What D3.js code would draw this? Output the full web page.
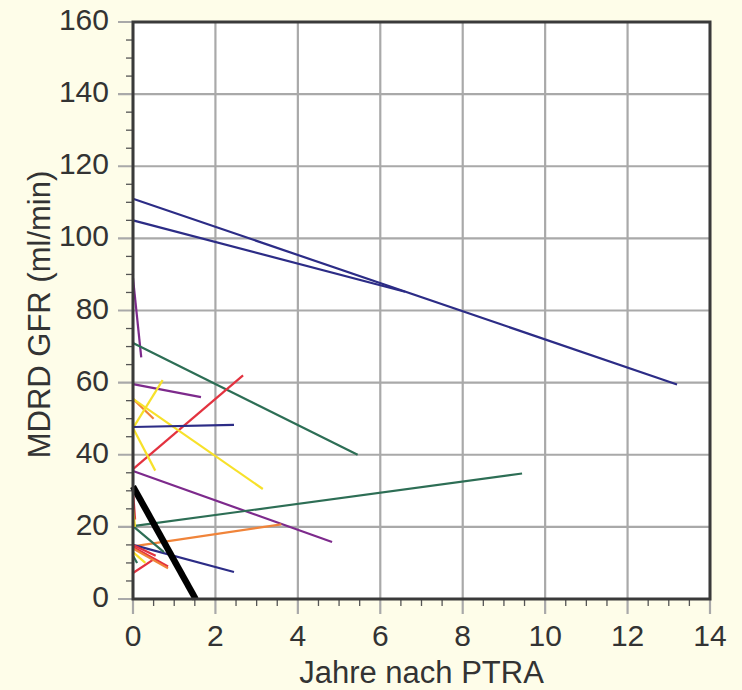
<!DOCTYPE html>
<html>
<head>
<meta charset="utf-8">
<script src="https://cdn.jsdelivr.net/npm/d3@7/dist/d3.min.js"></script>
<style>
  html, body { margin: 0; padding: 0; background: #fefde9; }
  svg { display: block; }
  text { font-family: "Liberation Sans", Arial, Helvetica, sans-serif; fill: #333; }
</style>
</head>
<body>
<svg id="chart" width="742" height="690"></svg>
<script>
// Individual GFR courses: value at PTRA (year 0) and the last follow-up value
const startGFR = [111, 105, 89, 71, 59.6, 36, 55.5, 55.5, 47.4, 47.4, 47.7, 35.5, 20.2, 14.6, 15, 20.2, 14.4, 7.2, 14, 30, 25, 12, 13, 15];
const endYears = [13.2, 6.6, 0.2, 5.45, 1.65, 2.67, 0.5, 3.15, 0.72, 0.54, 2.45, 4.83, 9.44, 3.6, 2.45, 0.75, 0.85, 0.5, 0.85, 0.05, 0.05, 0.1, 0.3, 0.55];
const endGFR = [59.5, 85.2, 67, 40, 56, 62, 50, 30.5, 60.7, 35.6, 48.3, 15.8, 34.8, 20.7, 7.5, 13, 9, 11, 8.5, 22, 20, 10, 10, 12];
const group = ["blau", "blau", "violett", "gruen", "violett", "rot", "orange", "gelb", "gelb", "gelb", "blau", "violett", "gruen", "orange", "blau", "gruen", "rot", "rot", "orange", "rot", "gelb", "gruen", "gelb", "rot"];

// Mean course (thick black line)
const meanStart = 31.2;
const meanEndYear = 1.52;
const meanEnd = 0;

const xTicks = [0, 2, 4, 6, 8, 10, 12, 14];
const yTicks = [0, 20, 40, 60, 80, 100, 120, 140, 160];
const xLabel = "Jahre nach PTRA";
const yLabel = "MDRD GFR (ml/min)";

const colour = d3.scaleOrdinal()
  .domain(["blau", "violett", "gruen", "rot", "orange", "gelb"])
  .range(["#2c2c86", "#7d2a8c", "#2d6e55", "#e3323f", "#f0843a", "#f7e12a"]);

const svg = d3.select("#chart");
const plotL = 133, plotR = 710, plotT = 22, plotB = 599;

const x = d3.scaleLinear().domain([0, 14]).range([plotL, plotR]);
const y = d3.scaleLinear().domain([0, 160]).range([plotB, plotT]);

// plot area
svg.append("rect")
  .attr("x", plotL).attr("y", plotT)
  .attr("width", plotR - plotL).attr("height", plotB - plotT)
  .attr("fill", "#ffffff");

// grid lines, extending past the frame as major ticks
const grid = svg.append("g").attr("stroke", "#a9a9a9").attr("stroke-width", 2.2);
grid.selectAll(".gx").data(xTicks).join("line")
  .attr("x1", d => x(d)).attr("x2", d => x(d))
  .attr("y1", plotT).attr("y2", plotB + 15);
grid.selectAll(".gy").data(yTicks).join("line")
  .attr("y1", d => y(d)).attr("y2", d => y(d))
  .attr("x1", plotL - 15).attr("x2", plotR);

// minor ticks
const minorX = d3.range(0, 14.01, 0.5).filter(v => v % 2 !== 0);
const minorY = d3.range(0, 160.01, 5).filter(v => v % 20 !== 0);
const minor = svg.append("g").attr("stroke", "#555").attr("stroke-width", 1.3);
minor.selectAll(".mx").data(minorX).join("line")
  .attr("x1", d => x(d)).attr("x2", d => x(d))
  .attr("y1", plotB).attr("y2", plotB + 7);
minor.selectAll(".my").data(minorY).join("line")
  .attr("y1", d => y(d)).attr("y2", d => y(d))
  .attr("x1", plotL - 7).attr("x2", plotL);

// data segments
const rows = startGFR.map((s, i) => ({ s, t: endYears[i], e: endGFR[i], g: group[i] }));
svg.append("g").selectAll("line").data(rows).join("line")
  .attr("x1", x(0)).attr("y1", d => y(d.s))
  .attr("x2", d => x(d.t)).attr("y2", d => y(d.e))
  .attr("stroke", d => colour(d.g))
  .attr("stroke-width", 2.2)
  .attr("fill", "none");

svg.append("line")
  .attr("x1", x(0)).attr("y1", y(meanStart))
  .attr("x2", x(meanEndYear)).attr("y2", y(meanEnd))
  .attr("stroke", "#000").attr("stroke-width", 6.5);

// frame
svg.append("rect")
  .attr("x", plotL).attr("y", plotT)
  .attr("width", plotR - plotL).attr("height", plotB - plotT)
  .attr("fill", "none").attr("stroke", "#3a3a3a").attr("stroke-width", 3);

// tick labels
svg.append("g").selectAll("text").data(yTicks).join("text")
  .attr("x", 109).attr("y", d => y(d) + 8)
  .attr("text-anchor", "end")
  .attr("font-size", 30)
  .text(d => d);
svg.append("g").selectAll("text").data(xTicks).join("text")
  .attr("x", d => x(d)).attr("y", 646)
  .attr("text-anchor", "middle")
  .attr("font-size", 30)
  .text(d => d);

// axis titles
svg.append("text")
  .attr("x", (plotL + plotR) / 2).attr("y", 683)
  .attr("text-anchor", "middle")
  .attr("font-size", 31)
  .text(xLabel);
svg.append("text")
  .attr("transform", "translate(50," + ((plotT + plotB) / 2 + 4) + ") rotate(-90)")
  .attr("text-anchor", "middle")
  .attr("font-size", 31)
  .text(yLabel);
</script>
</body>
</html>
